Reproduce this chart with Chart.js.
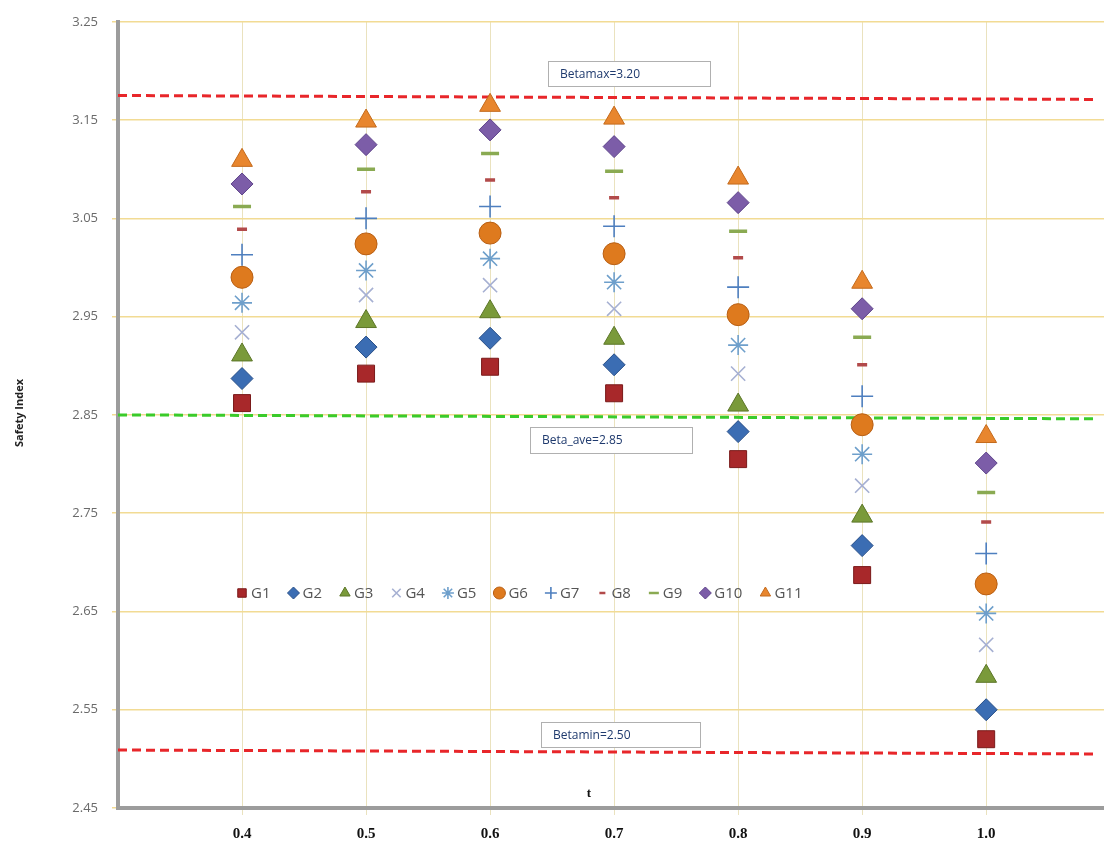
<!DOCTYPE html>
<html>
<head>
<meta charset="utf-8">
<script src="https://cdn.jsdelivr.net/npm/chart.js@4.4.1/dist/chart.umd.min.js"></script>
<style>
html,body{margin:0;padding:0;background:#fff;}
#wrap{width:1104px;height:846px;position:relative;}
</style>
</head>
<body>
<div id="wrap"><canvas id="c" width="1104" height="846"></canvas></div>
<script>
// ---- data ----
const tValues = [0.4, 0.5, 0.6, 0.7, 0.8, 0.9, 1.0];
const seriesNames = ["G1","G2","G3","G4","G5","G6","G7","G8","G9","G10","G11"];
const G1  = [2.862, 2.892, 2.899, 2.872, 2.805, 2.687, 2.520];
const G2  = [2.887, 2.919, 2.928, 2.901, 2.833, 2.717, 2.550];
const G3  = [2.911, 2.945, 2.955, 2.928, 2.860, 2.747, 2.584];
const G4  = [2.934, 2.972, 2.982, 2.958, 2.892, 2.778, 2.616];
const G5  = [2.964, 2.997, 3.009, 2.985, 2.921, 2.810, 2.648];
const G6  = [2.990, 3.024, 3.035, 3.014, 2.952, 2.840, 2.678];
const G7  = [3.013, 3.050, 3.062, 3.042, 2.980, 2.869, 2.709];
const G8  = [3.039, 3.077, 3.089, 3.071, 3.010, 2.901, 2.741];
const G9  = [3.062, 3.100, 3.116, 3.098, 3.037, 2.929, 2.771];
const G10 = [3.085, 3.125, 3.140, 3.123, 3.066, 2.958, 2.801];
const G11 = [3.109, 3.149, 3.165, 3.152, 3.091, 2.985, 2.828];
const yTickValues = [2.45, 2.55, 2.65, 2.75, 2.85, 2.95, 3.05, 3.15, 3.25];
// reference lines: [value at left edge, value at right edge]
const lineX = [0.3, 1.09];
const betaMaxLine = [3.175, 3.171];
const betaAveLine = [2.850, 2.846];
const betaMinLine = [2.509, 2.505];
const refLabels = ["Betamax=3.20", "Beta_ave=2.85", "Betamin=2.50"];

const seriesValues = [G1,G2,G3,G4,G5,G6,G7,G8,G9,G10,G11];
const styles = [
  {pointStyle:'rect',     radius:12, bg:'#A8282A', bc:'#7A1A1A', bw:1},
  {pointStyle:'rectRot',  radius:11, bg:'#3B6DB3', bc:'#284F88', bw:1},
  {pointStyle:'triangle', radius:12, bg:'#7A9A3A', bc:'#5C7628', bw:1},
  {pointStyle:'crossRot', radius:10, bg:'#A6B0D2', bc:'#A6B0D2', bw:1.6},
  {pointStyle:'star',     radius:10, bg:'#6E9FCB', bc:'#6E9FCB', bw:1.6},
  {pointStyle:'circle',   radius:11, bg:'#DE7A1E', bc:'#B85F14', bw:1},
  {pointStyle:'cross',    radius:11, bg:'#4E7FBF', bc:'#4E7FBF', bw:1.6},
  {pointStyle:'line',     radius:5,  bg:'#B24A4A', bc:'#B24A4A', bw:3.5},
  {pointStyle:'line',     radius:9,  bg:'#8AAA52', bc:'#8AAA52', bw:3.5},
  {pointStyle:'rectRot',  radius:11, bg:'#7C5DA8', bc:'#5E448A', bw:1},
  {pointStyle:'triangle', radius:12, bg:'#E8862E', bc:'#C46A1C', bw:1}
];

const datasets = seriesValues.map((vals, i) => ({
  type: 'scatter',
  label: seriesNames[i],
  data: tValues.map((t, k) => ({x: t, y: vals[k]})),
  pointStyle: styles[i].pointStyle,
  pointRadius: styles[i].radius,
  pointHoverRadius: styles[i].radius,
  backgroundColor: styles[i].bg,
  borderColor: styles[i].bc,
  pointBorderWidth: styles[i].bw,
  borderWidth: styles[i].bw,
  order: 1
}));

function refDataset(vals, color){
  return {
    type:'line', label:'_ref',
    data: lineX.map((x,k)=>({x:x, y:vals[k]})),
    borderColor: color, borderWidth: 3, borderDash:[9,5],
    pointRadius:0, fill:false, order: 2, showLine:true
  };
}
datasets.push(refDataset(betaMaxLine, '#E8262A'));
datasets.push(refDataset(betaAveLine, '#3ACB2A'));
datasets.push(refDataset(betaMinLine, '#E8262A'));

function drawMarker(ctx, st, x, y, r){
  ctx.save();
  ctx.fillStyle = st.bg; ctx.strokeStyle = st.bc; ctx.lineWidth = st.bw;
  if (Chart.helpers && Chart.helpers.drawPoint) {
    Chart.helpers.drawPoint(ctx, {pointStyle: st.pointStyle, radius: r, rotation: 0, borderWidth: st.bw}, x, y);
  }
  ctx.restore();
}

const overlay = {
  id: 'overlay',
  afterDraw(chart){
    const ctx = chart.ctx;
    // reference labels
    const boxes = [
      {text: refLabels[0], left: 548, top: 61, w: 162, h: 25},
      {text: refLabels[1], left: 530, top: 427, w: 162, h: 26},
      {text: refLabels[2], left: 541, top: 722, w: 159, h: 25}
    ];
    ctx.save();
    boxes.forEach(b => {
      ctx.fillStyle = '#fff';
      ctx.fillRect(b.left, b.top, b.w, b.h);
      ctx.strokeStyle = '#B0B0B0'; ctx.lineWidth = 1;
      ctx.strokeRect(b.left + 0.5, b.top + 0.5, b.w, b.h);
      ctx.fillStyle = '#1F3A6E';
      ctx.font = '12px "Open Sans", "Liberation Sans", sans-serif';
      ctx.textBaseline = 'middle'; ctx.textAlign = 'left';
      ctx.fillText(b.text, b.left + 12, b.top + b.h/2 + 1);
    });
    // x title "t"
    ctx.fillStyle = '#111';
    ctx.font = 'bold 13px "Liberation Serif", serif';
    ctx.textAlign = 'center';
    ctx.fillText('t', 589, 794);
    // y title
    ctx.translate(20, 413);
    ctx.rotate(-Math.PI/2);
    ctx.font = 'bold 11px "Open Sans", "Liberation Sans", sans-serif';
    ctx.fillStyle = '#222';
    ctx.fillText('Safety Index', 0, 0);
    ctx.restore();

    // legend inside plot
    ctx.save();
    ctx.font = '15px "Open Sans", "Liberation Sans", sans-serif';
    ctx.textBaseline = 'middle'; ctx.textAlign = 'left';
    let x = 242; const y = 593;
    seriesNames.forEach((name, i) => {
      const st = styles[i];
      let r = 6;
      if (st.pointStyle === 'line') r = (i === 7 ? 3 : 5);
      drawMarker(ctx, Object.assign({}, st, {bw: st.pointStyle==='line'?2.5:st.bw}), x, y, r);
      ctx.fillStyle = '#555555';
      ctx.fillText(name, x + 9, y + 1);
      x += 9 + ctx.measureText(name).width + 23;
    });
    ctx.restore();
  }
};

new Chart(document.getElementById('c'), {
  type: 'scatter',
  data: { datasets },
  plugins: [overlay],
  options: {
    responsive: false,
    animation: false,
    devicePixelRatio: 1,
    layout: { autoPadding: false, padding: { top: 18, left: 0, right: 0, bottom: 0 } },
    plugins: { legend: { display: false }, tooltip: { enabled: false } },
    scales: {
      x: {
        type: 'linear', min: 0.3, max: 1.095,
        afterBuildTicks(scale){ scale.ticks = tValues.map(v => ({value: v})); },
        afterFit(scale){ scale.height = 38; scale.paddingRight = 0; scale.paddingLeft = 0; },
        ticks: {
          callback: v => Number(v).toFixed(1),
          color: '#111', padding: 10,
          font: { family: '"Liberation Serif", serif', size: 15, weight: 'bold' },
          maxRotation: 0
        },
        grid: { color: '#EAE2BE', lineWidth: 1, tickLength: 7 },
        border: { color: '#9C9C9C', width: 4 }
      },
      y: {
        type: 'linear', min: 2.45, max: 3.25,
        afterBuildTicks(scale){ scale.ticks = yTickValues.map(v => ({value: v})); },
        afterFit(scale){ scale.width = 118; },
        ticks: {
          callback: v => Number(v).toFixed(2),
          color: '#6A6A6A', padding: 14,
          font: { family: '"Open Sans", "Liberation Sans", sans-serif', size: 13 }
        },
        grid: { color: '#F2DB94', lineWidth: 1.5, tickLength: 6 },
        border: { color: '#9C9C9C', width: 4 }
      }
    }
  }
});
</script>
</body>
</html>
